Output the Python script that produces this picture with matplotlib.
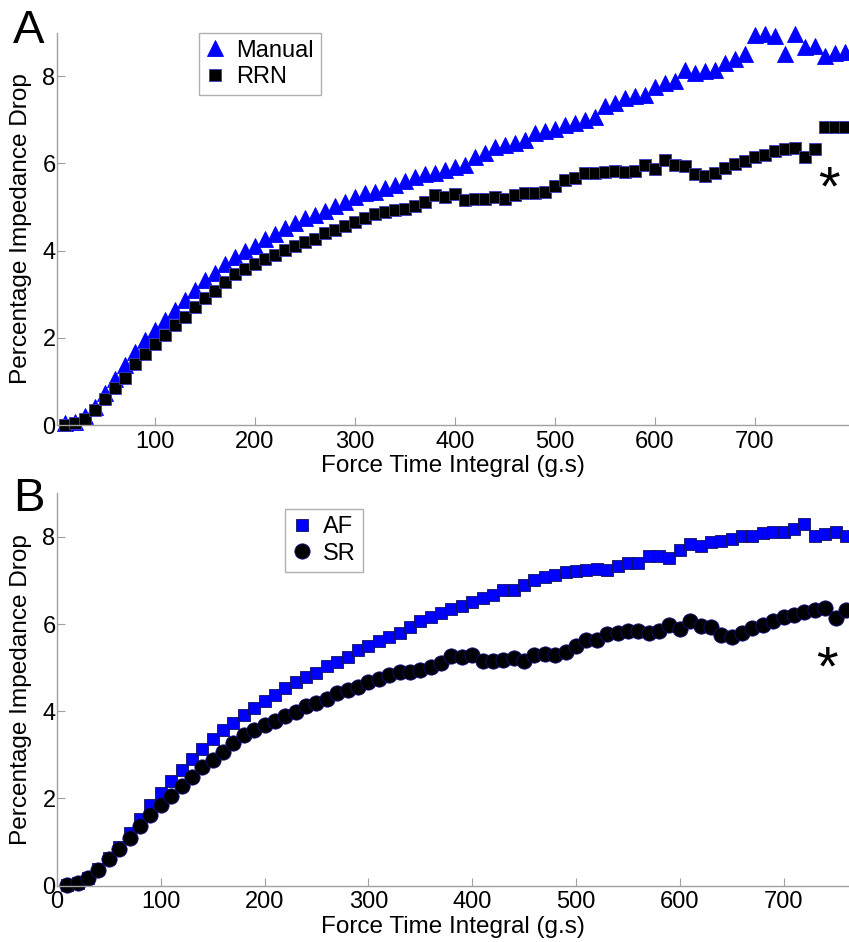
import matplotlib
matplotlib.use("Agg")
import matplotlib.pyplot as plt

plt.rcParams['font.family'] = ['Liberation Sans', 'DejaVu Sans']

############## DATA #################
# panel A: force time integral (g.s) vs % impedance drop
force_a = list(range(10, 800, 10))
manual = [0.05, 0.08, 0.20, 0.42, 0.73, 1.05, 1.38, 1.68, 1.95, 2.19,
          2.42, 2.64, 2.87, 3.10, 3.33, 3.49, 3.69, 3.85, 4.00, 4.11,
          4.26, 4.38, 4.51, 4.63, 4.74, 4.82, 4.91, 5.02, 5.12, 5.24,
          5.31, 5.35, 5.44, 5.50, 5.60, 5.68, 5.75, 5.79, 5.85, 5.91,
          5.96, 6.14, 6.23, 6.37, 6.42, 6.46, 6.54, 6.69, 6.75, 6.80,
          6.88, 6.92, 7.00, 7.07, 7.32, 7.39, 7.49, 7.55, 7.57, 7.76,
          7.85, 7.90, 8.14, 8.07, 8.12, 8.14, 8.30, 8.39, 8.52, 8.94,
          8.97, 8.92, 8.52, 8.97, 8.66, 8.69, 8.46, 8.54, 8.56]
rrn = [0.00, 0.04, 0.13, 0.34, 0.59, 0.84, 1.09, 1.39, 1.64, 1.85,
       2.06, 2.29, 2.48, 2.71, 2.91, 3.08, 3.27, 3.46, 3.57, 3.69,
       3.80, 3.90, 4.01, 4.11, 4.19, 4.27, 4.40, 4.47, 4.56, 4.65,
       4.74, 4.84, 4.89, 4.92, 4.95, 5.02, 5.12, 5.28, 5.24, 5.30,
       5.16, 5.18, 5.18, 5.24, 5.18, 5.28, 5.33, 5.32, 5.35, 5.49,
       5.63, 5.66, 5.77, 5.79, 5.81, 5.83, 5.81, 5.83, 5.96, 5.87,
       6.08, 5.96, 5.95, 5.75, 5.71, 5.79, 5.90, 5.98, 6.06, 6.14,
       6.19, 6.28, 6.32, 6.36, 6.14, 6.32, 6.84, 6.84, 6.84]

# panel B
force_b = list(range(10, 770, 10))
af = [0.02, 0.05, 0.17, 0.38, 0.63, 0.89, 1.20, 1.53, 1.85, 2.13,
      2.40, 2.65, 2.90, 3.14, 3.36, 3.57, 3.74, 3.92, 4.08, 4.24,
      4.37, 4.53, 4.66, 4.79, 4.88, 5.04, 5.14, 5.24, 5.41, 5.50,
      5.60, 5.70, 5.80, 5.93, 6.06, 6.16, 6.26, 6.34, 6.42, 6.51,
      6.59, 6.67, 6.77, 6.77, 6.90, 7.01, 7.09, 7.13, 7.20, 7.22,
      7.24, 7.26, 7.23, 7.32, 7.39, 7.41, 7.55, 7.57, 7.51, 7.70,
      7.83, 7.80, 7.88, 7.91, 7.95, 8.03, 8.03, 8.08, 8.12, 8.12,
      8.18, 8.30, 8.02, 8.07, 8.12, 8.02]
sr = [0.02, 0.05, 0.17, 0.36, 0.61, 0.83, 1.09, 1.37, 1.62, 1.85,
      2.06, 2.29, 2.49, 2.72, 2.88, 3.07, 3.27, 3.46, 3.57, 3.69,
      3.78, 3.90, 3.99, 4.11, 4.18, 4.28, 4.43, 4.49, 4.56, 4.66,
      4.73, 4.83, 4.89, 4.91, 4.95, 5.02, 5.11, 5.27, 5.24, 5.29,
      5.16, 5.16, 5.18, 5.21, 5.16, 5.28, 5.31, 5.29, 5.35, 5.50,
      5.63, 5.64, 5.77, 5.80, 5.83, 5.84, 5.80, 5.83, 5.98, 5.88,
      6.08, 5.96, 5.94, 5.75, 5.71, 5.79, 5.90, 5.98, 6.06, 6.16,
      6.21, 6.28, 6.32, 6.36, 6.13, 6.32]

star_a = (774, 5.39)
star_b = (742, 4.94)

############## PLOT #################
fig = plt.figure(figsize=(8.49, 9.42), dpi=100)
ax_a = fig.add_axes([0.0671, 0.5488, 0.9329, 0.4166])
ax_b = fig.add_axes([0.0671, 0.0598, 0.9329, 0.4166])

blue = (0, 0, 1)
fs = 17

ax_a.plot(force_a, manual, ls='none', marker='^', ms=11, mfc=blue, mec=blue,
          mew=0.6, label='Manual', clip_on=False)
ax_a.plot(force_a, rrn, ls='none', marker='s', ms=9, mfc='k', mec='#3a3ad0',
          mew=0.6, label='RRN', clip_on=False)

ax_b.plot(force_b, af, ls='none', marker='s', ms=9, mfc=blue, mec='#101060',
          mew=0.6, label='AF', clip_on=False)
ax_b.plot(force_b, sr, ls='none', marker='o', ms=11, mfc='k', mec='#101080',
          mew=0.6, label='SR', clip_on=False)

ax_a.set_xlim(2, 794)
ax_a.set_xticks([100, 200, 300, 400, 500, 600, 700])
ax_b.set_xlim(0, 763)
ax_b.set_xticks([0, 100, 200, 300, 400, 500, 600, 700])

for ax in (ax_a, ax_b):
    ax.set_ylim(0, 9)
    ax.set_yticks([0, 2, 4, 6, 8])
    for side in ('top', 'right'):
        ax.spines[side].set_visible(False)
    for side in ('left', 'bottom'):
        ax.spines[side].set_color('#a0a0a0')
        ax.spines[side].set_linewidth(1.0)
    ax.tick_params(direction='in', length=5.5, width=0.8, color='#a0a0a0',
                   labelsize=fs, labelcolor='k')
    ax.tick_params(axis='x', pad=4)
    ax.tick_params(axis='y', pad=1)
    ax.set_xlabel('Force Time Integral (g.s)', fontsize=fs + 0.5, labelpad=2)
    ax.set_ylabel('Percentage Impedance Drop', fontsize=fs + 0.6)
    ax.yaxis.set_label_coords(-0.031, 0.5)

ax_a.text(*star_a, '*', fontsize=40, ha='center', va='center')
ax_b.text(*star_b, '*', fontsize=40, ha='center', va='center')

leg_a = ax_a.legend(loc='upper left', bbox_to_anchor=(0.179, 1.0), numpoints=1,
                    handlelength=0.8, handletextpad=0.5, borderpad=0.3,
                    labelspacing=0.2, fontsize=fs, fancybox=False,
                    borderaxespad=0, framealpha=1, edgecolor='#b0b0b0')
leg_b = ax_b.legend(loc='upper left', bbox_to_anchor=(0.288, 0.96), numpoints=1,
                    handlelength=0.8, handletextpad=0.5, borderpad=0.3,
                    labelspacing=0.2, fontsize=fs, fancybox=False,
                    borderaxespad=0, framealpha=1, edgecolor='#b0b0b0')

fig.text(0.015, 0.99, 'A', fontsize=34, va='top', ha='left')
fig.text(0.015, 0.494, 'B', fontsize=34, va='top', ha='left')

plt.savefig('out.png', dpi=100)
